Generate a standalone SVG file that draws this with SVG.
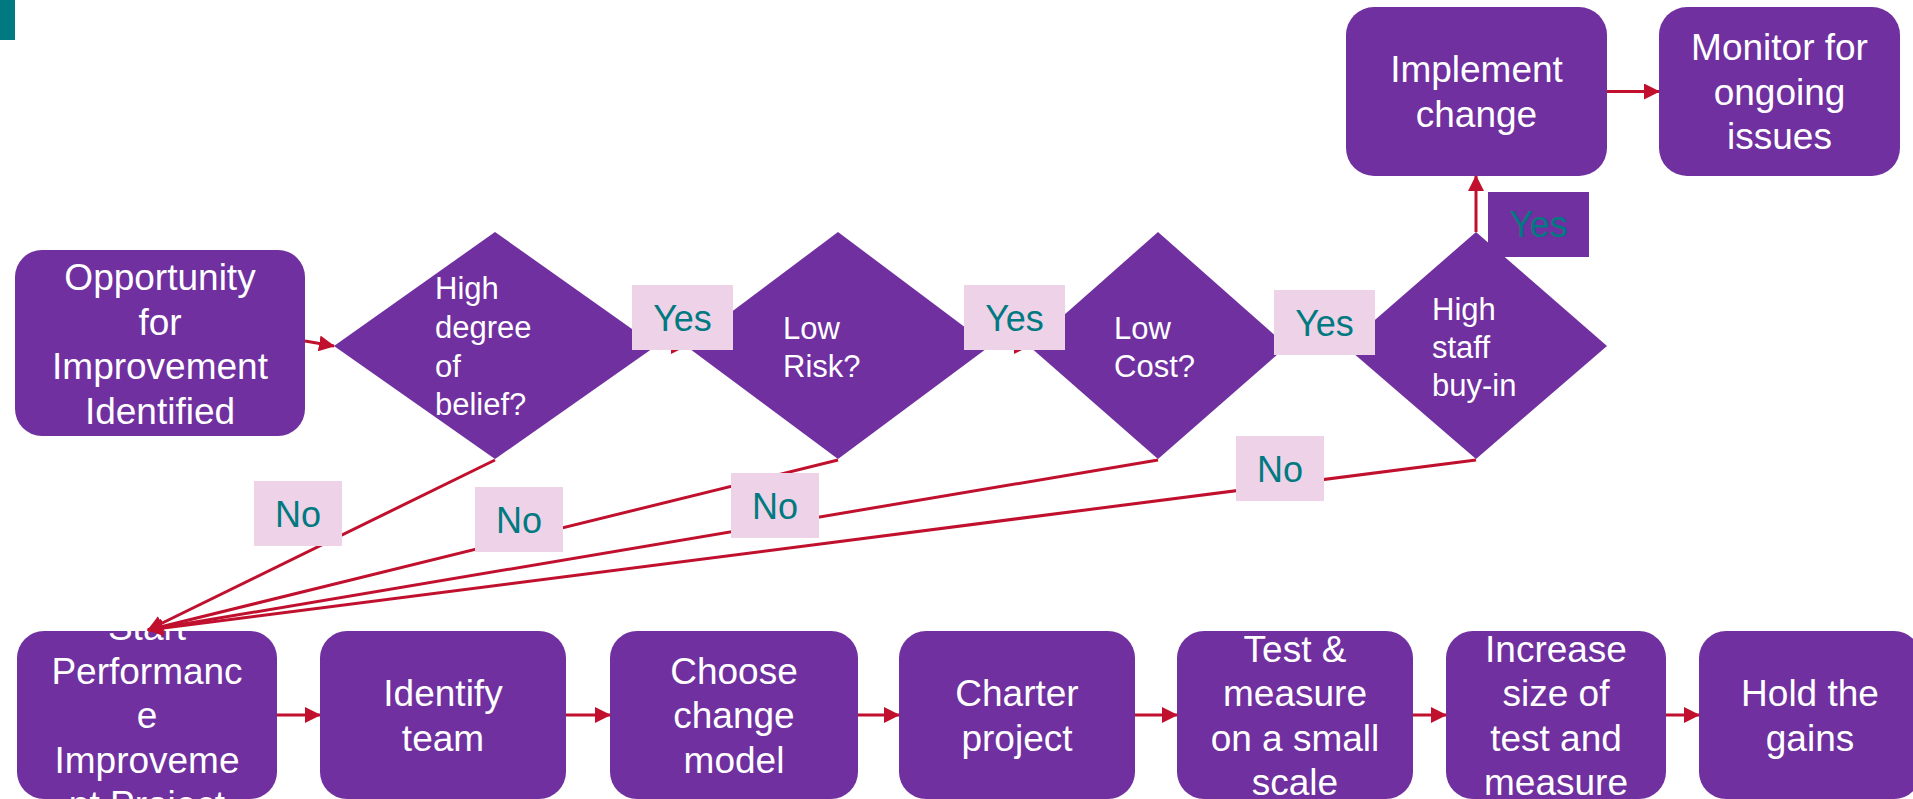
<svg xmlns="http://www.w3.org/2000/svg" width="1913" height="799" viewBox="0 0 1913 799">
<defs>
<style>
.box{fill:#7030A0;}
.t{font-family:"Liberation Sans",Arial,sans-serif;font-size:37px;fill:#FFFFFF;text-anchor:middle;}
.dt{font-family:"Liberation Sans",Arial,sans-serif;font-size:31px;fill:#FFFFFF;}
.lbl{fill:#EED3E8;}
.lt{font-family:"Liberation Sans",Arial,sans-serif;font-size:36px;fill:#007A80;text-anchor:middle;}
.c{stroke:#C0102E;stroke-width:3;fill:none;}
</style>
<marker id="ah" markerUnits="userSpaceOnUse" markerWidth="16" markerHeight="16" viewBox="0 0 16 16" refX="15" refY="8" orient="auto">
<path d="M0,0 L16,8 L0,16 Z" fill="#C0102E"/>
</marker>
</defs>
<rect width="1913" height="799" fill="#FFFFFF"/>
<rect x="0" y="0" width="15" height="40" fill="#007A80"/>

<g id="n-opportunity">
<rect class="box" x="15" y="250" width="290" height="186" rx="27"/>
<text class="t" x="160" y="290">Opportunity</text>
<text class="t" x="160" y="335">for</text>
<text class="t" x="160" y="379">Improvement</text>
<text class="t" x="160" y="424">Identified</text>
</g>
<g id="n-belief">
<polygon class="box" points="334,346 495,232 656,346 495,459"/>
<text class="dt" x="435" y="299">High</text>
<text class="dt" x="435" y="338">degree</text>
<text class="dt" x="435" y="377">of</text>
<text class="dt" x="435" y="415">belief?</text>
</g>
<g id="n-risk">
<polygon class="box" points="686,346 838,232 990,346 838,459"/>
<text class="dt" x="783" y="339">Low</text>
<text class="dt" x="783" y="377">Risk?</text>
</g>
<g id="n-cost">
<polygon class="box" points="1029,346 1158,232 1287,346 1158,459"/>
<text class="dt" x="1114" y="339">Low</text>
<text class="dt" x="1114" y="377">Cost?</text>
</g>
<g id="n-buyin">
<polygon class="box" points="1345,346 1476,232 1607,346 1476,459"/>
<text class="dt" x="1432" y="320">High</text>
<text class="dt" x="1432" y="358">staff</text>
<text class="dt" x="1432" y="396">buy-in</text>
</g>
<g id="n-implement">
<rect class="box" x="1346" y="7" width="261" height="169" rx="28"/>
<text class="t" x="1476.5" y="82">Implement</text>
<text class="t" x="1476.5" y="127">change</text>
</g>
<g id="n-monitor">
<rect class="box" x="1659" y="7" width="241" height="169" rx="28"/>
<text class="t" x="1779.5" y="60">Monitor for</text>
<text class="t" x="1779.5" y="105">ongoing</text>
<text class="t" x="1779.5" y="149">issues</text>
</g>

<g id="n-start">
<rect class="box" x="17" y="631" width="260" height="168" rx="27"/>
<text class="t" x="147" y="640">Start</text>
<text class="t" x="147" y="684">Performanc</text>
<text class="t" x="147" y="728">e</text>
<text class="t" x="147" y="773">Improveme</text>
<text class="t" x="147" y="817">nt Project</text>
</g>
<g id="n-team">
<rect class="box" x="320" y="631" width="246" height="168" rx="27"/>
<text class="t" x="443" y="706">Identify</text>
<text class="t" x="443" y="751">team</text>
</g>
<g id="n-model">
<rect class="box" x="610" y="631" width="248" height="168" rx="27"/>
<text class="t" x="734" y="684">Choose</text>
<text class="t" x="734" y="728">change</text>
<text class="t" x="734" y="773">model</text>
</g>
<g id="n-charter">
<rect class="box" x="899" y="631" width="236" height="168" rx="27"/>
<text class="t" x="1017" y="706">Charter</text>
<text class="t" x="1017" y="751">project</text>
</g>
<g id="n-test">
<rect class="box" x="1177" y="631" width="236" height="168" rx="27"/>
<text class="t" x="1295" y="662">Test &amp;</text>
<text class="t" x="1295" y="706">measure</text>
<text class="t" x="1295" y="751">on a small</text>
<text class="t" x="1295" y="795">scale</text>
</g>
<g id="n-increase">
<rect class="box" x="1446" y="631" width="220" height="168" rx="27"/>
<text class="t" x="1556" y="662">Increase</text>
<text class="t" x="1556" y="706">size of</text>
<text class="t" x="1556" y="751">test and</text>
<text class="t" x="1556" y="795">measure</text>
</g>
<g id="n-hold">
<rect class="box" x="1699" y="631" width="222" height="168" rx="27"/>
<text class="t" x="1810" y="706">Hold the</text>
<text class="t" x="1810" y="751">gains</text>
</g>

<g id="connectors">
<line class="c" x1="305" y1="341" x2="334" y2="346" marker-end="url(#ah)"/>
<line class="c" x1="656" y1="346" x2="686" y2="346" marker-end="url(#ah)"/>
<line class="c" x1="990" y1="346" x2="1029" y2="346" marker-end="url(#ah)"/>
<line class="c" x1="1287" y1="346" x2="1345" y2="346" marker-end="url(#ah)"/>
<line class="c" x1="1476" y1="232" x2="1476" y2="176" marker-end="url(#ah)"/>
<line class="c" x1="1607" y1="91.5" x2="1659" y2="91.5" marker-end="url(#ah)"/>
<line class="c" x1="495" y1="460" x2="148" y2="630" marker-end="url(#ah)"/>
<line class="c" x1="838" y1="460" x2="148" y2="630" marker-end="url(#ah)"/>
<line class="c" x1="1158" y1="460" x2="148" y2="630" marker-end="url(#ah)"/>
<line class="c" x1="1476" y1="460" x2="148" y2="630" marker-end="url(#ah)"/>
<line class="c" x1="277" y1="715" x2="320" y2="715" marker-end="url(#ah)"/>
<line class="c" x1="566" y1="715" x2="610" y2="715" marker-end="url(#ah)"/>
<line class="c" x1="858" y1="715" x2="899" y2="715" marker-end="url(#ah)"/>
<line class="c" x1="1135" y1="715" x2="1177" y2="715" marker-end="url(#ah)"/>
<line class="c" x1="1413" y1="715" x2="1446" y2="715" marker-end="url(#ah)"/>
<line class="c" x1="1666" y1="715" x2="1699" y2="715" marker-end="url(#ah)"/>
</g>

<g id="labels">
<rect class="lbl" x="632" y="285" width="101" height="65"/>
<text class="lt" x="682.5" y="331">Yes</text>
<rect class="lbl" x="964" y="285" width="101" height="65"/>
<text class="lt" x="1014.5" y="331">Yes</text>
<rect class="lbl" x="1274" y="290" width="101" height="65"/>
<text class="lt" x="1324.5" y="336">Yes</text>
<rect class="box" x="1488" y="192" width="101" height="65"/>
<text class="lt" x="1538.5" y="237">Yes</text>
<rect class="lbl" x="254" y="481" width="88" height="65"/>
<text class="lt" x="298" y="527">No</text>
<rect class="lbl" x="475" y="487" width="88" height="65"/>
<text class="lt" x="519" y="533">No</text>
<rect class="lbl" x="731" y="473" width="88" height="65"/>
<text class="lt" x="775" y="519">No</text>
<rect class="lbl" x="1236" y="436" width="88" height="65"/>
<text class="lt" x="1280" y="482">No</text>
</g>
</svg>
